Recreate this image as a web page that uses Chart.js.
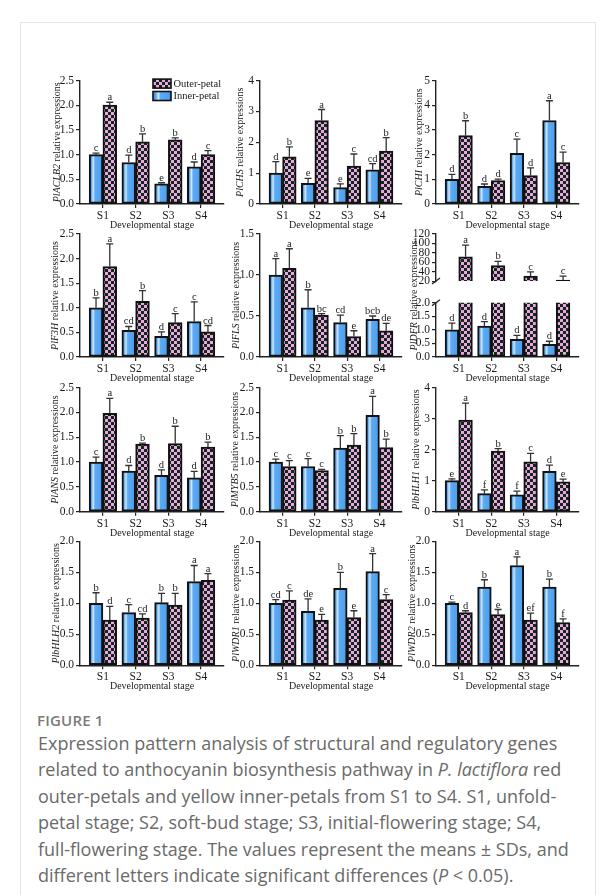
<!DOCTYPE html>
<html><head><meta charset="utf-8">
<script src="https://cdn.jsdelivr.net/npm/chart.js@4.4.1/dist/chart.umd.min.js"></script>
<style>
html,body{margin:0;padding:0;background:#fff;}
body{width:616px;height:895px;position:relative;overflow:hidden;}
#frame{position:absolute;left:20px;top:22px;width:576px;height:900px;border:1px solid #e4e4e4;box-sizing:border-box;}
canvas{position:absolute;}
#fig{position:absolute;left:37px;top:709px;font:600 15px/22px "Open Sans";color:#7a7a7a;letter-spacing:0.2px;white-space:nowrap;}
#cap{position:absolute;left:38px;top:730px;font:18px/26.4px "Open Sans";color:#6a6a6a;white-space:nowrap;}
</style></head><body>
<div id="frame"></div>
<div id="fig">FIGURE 1</div>
<div id="cap">Expression pattern analysis of structural and regulatory genes<br>related to anthocyanin biosynthesis pathway in <i>P. lactiflora</i> red<br>outer-petals and yellow inner-petals from S1 to S4. S1, unfold-<br>petal stage; S2, soft-bud stage; S3, initial-flowering stage; S4,<br>full-flowering stage. The values represent the means ± SDs, and<br>different letters indicate significant differences (<i>P</i> &lt; 0.05).</div>
<script>
// ---------- DATA ----------
const stages = ['S1','S2','S3','S4'];
const genes = ['PlACLB2','PlCHS','PlCHI','PlF3H','PlFLS','PlDFR','PlANS','PlMYB5','PlbHLH1','PlbHLH2','PlWDR1','PlWDR2'];
const innerMean = [
  [1.00,0.84,0.41,0.75],[1.00,0.67,0.53,1.11],[1.00,0.72,2.05,3.38],
  [1.00,0.54,0.42,0.72],[1.00,0.60,0.42,0.46],[1.00,1.14,0.65,0.47],
  [1.00,0.82,0.73,0.68],[1.00,0.91,1.28,1.94],[1.00,0.58,0.54,1.30],
  [1.00,0.85,1.01,1.35],[1.00,0.87,1.24,1.51],[1.00,1.26,1.61,1.26]];
const innerSD = [
  [0.03,0.15,0.02,0.10],[0.37,0.16,0.12,0.20],[0.20,0.09,0.58,0.80],
  [0.20,0.08,0.09,0.40],[0.20,0.22,0.09,0.04],[0.25,0.16,0.15,0.11],
  [0.10,0.11,0.11,0.13],[0.06,0.16,0.25,0.38],[0.06,0.12,0.12,0.20],
  [0.17,0.13,0.15,0.26],[0.06,0.20,0.26,0.29],[0.02,0.12,0.14,0.13]];
const outerMean = [
  [2.00,1.26,1.30,1.00],[1.53,2.70,1.23,1.71],[2.77,0.95,1.15,1.68],
  [1.84,1.13,0.70,0.51],[1.08,0.51,0.25,0.32],[71.5,52.7,30.9,22.4],
  [1.98,1.36,1.37,1.30],[0.91,0.83,1.34,1.29],[2.95,1.95,1.61,0.96],
  [0.73,0.76,0.97,1.37],[1.05,0.73,0.77,1.06],[0.85,0.82,0.73,0.69]];
const outerSD = [
  [0.06,0.16,0.04,0.08],[0.32,0.36,0.39,0.44],[0.60,0.06,0.31,0.42],
  [0.46,0.22,0.18,0.13],[0.24,0.02,0.07,0.09],[25,9,8.5,8],
  [0.30,0.02,0.35,0.10],[0.12,0.02,0.23,0.17],[0.55,0.08,0.27,0.09],
  [0.22,0.07,0.19,0.11],[0.15,0.09,0.11,0.08],[0.03,0.08,0.11,0.06]];
const innerLetters = [
  ['c','d','e','d'],['d','e','e','cd'],['d','d','c','a'],
  ['b','cd','d','c'],['a','b','cd','bcb'],['d','d','d','d'],
  ['c','d','d','d'],['c','c','b','a'],['e','f','f','d'],
  ['b','c','b','a'],['cd','de','b','a'],['c','b','a','b']];
const outerLetters = [
  ['a','b','b','c'],['b','a','c','b'],['b','d','d','c'],
  ['a','b','c','cd'],['a','bc','e','de'],['a','b','c','c'],
  ['a','b','b','b'],['c','c','b','b'],['a','b','c','e'],
  ['d','cd','b','a'],['c','e','e','c'],['d','e','ef','f']];
const yMax = [2.5,4,5,2.5,1.5,2,2.5,2.5,4,2,2,2];
const yStep = [0.5,1,1,0.5,0.5,0.5,0.5,0.5,1,0.5,0.5,0.5];
const dfrUpperTicks = [20,40,60,80,100,120];

// ---------- LAYOUT ----------
const Y_W = 50, PAD_R = 8, X_H = 30;
const colL = [80,260,436], colR = [224,402,579];
const rowTop = [80.5,234,387.5,541.3], rowBot = [204,357,511.7,665.3];
const titleOff = [23,19.5,17,24.5,24,22,24.5,25,20,24,23.5,24];
const CAT = 0.84, X_MIN = -0.7, X_MAX = 3.7;
const SERIF = '"Liberation Serif", "Times New Roman", serif';

function blueGrad(ctx, x0, x1){
  const g = ctx.createLinearGradient(x0,0,x1,0);
  g.addColorStop(0,'#4390df'); g.addColorStop(0.16,'#57a7f2');
  g.addColorStop(0.3,'#d2e9fc'); g.addColorStop(0.42,'#5dabf4');
  g.addColorStop(0.85,'#51a0ec'); g.addColorStop(1,'#3f88d6');
  return g;
}
function checker(chart){
  if (chart.$chk) return chart.$chk;
  const c = document.createElement('canvas'); c.width = c.height = 6;
  const x = c.getContext('2d');
  x.fillStyle = '#eea3ea'; x.fillRect(0,0,6,6);
  x.fillStyle = '#0c2b10'; x.fillRect(0,0,3,3); x.fillRect(3,3,3,3);
  chart.$chk = chart.ctx.createPattern(c,'repeat');
  return chart.$chk;
}
function innerFill(c){
  const chart = c.chart, xs = chart.scales.x;
  if (!xs || c.dataIndex == null) return '#55a5f0';
  const p0 = xs.getPixelForValue(0), p1 = xs.getPixelForValue(1);
  if (!isFinite(p0) || !isFinite(p1)) return '#55a5f0';
  const cx = xs.getPixelForValue(c.dataIndex), bw = (p1-p0)*CAT/2;
  return blueGrad(chart.ctx, cx-bw, cx);
}

const decor = {
  id: 'decor',
  afterDatasetsDraw(chart){
    const o = chart.canvas._cfg, ctx = chart.ctx, ys = chart.scales.y;
    ctx.save();
    chart.data.datasets.forEach((ds, di) => {
      const meta = chart.getDatasetMeta(di);
      meta.data.forEach((bar, i) => {
        const d = ds.data[i]; const v = d && d.y;
        if (v == null || v > ys.max || v < ys.min) return;
        const sd = ds.sd[i], x = bar.x;
        const y0 = ys.getPixelForValue(v), y1 = ys.getPixelForValue(v+sd);
        ctx.strokeStyle = '#333'; ctx.lineWidth = 1.3;
        ctx.beginPath(); ctx.moveTo(x,y0); ctx.lineTo(x,y1);
        ctx.moveTo(x-3.5,y1); ctx.lineTo(x+3.5,y1); ctx.stroke();
        ctx.fillStyle = '#1a1a1a'; ctx.font = '10.5px ' + SERIF;
        ctx.textAlign = 'center'; ctx.textBaseline = 'alphabetic';
        ctx.fillText(ds.letters[i], x, y1-2);
      });
    });
    ctx.restore();
  },
  afterDraw(chart){
    const o = chart.canvas._cfg, ctx = chart.ctx, ca = chart.chartArea;
    ctx.save();
    ctx.fillStyle = '#1a1a1a';
    if (o.gene){
      const cx = ca.left - o.tOff;
      const topY = o.spanTop != null ? ca.top - o.spanTop : ca.top;
      const cy = (topY + ca.bottom)/2;
      ctx.translate(cx, cy); ctx.rotate(-Math.PI/2);
      const f1 = 'italic 10px ' + SERIF, f2 = '10px ' + SERIF, rest = ' relative expressions';
      ctx.font = f1; const w1 = ctx.measureText(o.gene).width;
      ctx.font = f2; const w2 = ctx.measureText(rest).width;
      const x0 = -(w1+w2)/2;
      ctx.textBaseline = 'middle'; ctx.textAlign = 'left';
      ctx.font = f1; ctx.fillText(o.gene, x0, 0);
      ctx.font = f2; ctx.fillText(rest, x0+w1, 0);
      ctx.setTransform(1,0,0,1,0,0);
    }
    if (o.showX){
      ctx.font = '10px ' + SERIF; ctx.textAlign = 'center'; ctx.textBaseline = 'middle';
      ctx.fillText('Developmental stage', (ca.left+ca.right)/2, ca.bottom+21.5);
    }
    if (o.brk){
      const y = o.brk === 'top' ? ca.top : ca.bottom;
      ctx.strokeStyle = '#222'; ctx.lineWidth = 1.3;
      ctx.beginPath(); ctx.moveTo(ca.left-4, y+3); ctx.lineTo(ca.left+4, y-3); ctx.stroke();
    }
    if (o.legend){
      const bx = ca.left + 73, items = [
        {t:'Outer-petal', y: ca.top - 1.4, f: checker(chart)},
        {t:'Inner-petal', y: ca.top + 11, f: blueGrad(ctx, bx, bx+18)}];
      items.forEach(it => {
        ctx.fillStyle = it.f; ctx.fillRect(bx, it.y, 18, 9);
        ctx.strokeStyle = '#111'; ctx.lineWidth = 1.6; ctx.strokeRect(bx, it.y, 18, 9);
        ctx.fillStyle = '#1a1a1a'; ctx.font = '10.5px ' + SERIF;
        ctx.textAlign = 'left'; ctx.textBaseline = 'middle';
        ctx.fillText(it.t, bx+20.5, it.y+4.8);
      });
    }
    ctx.restore();
  }
};

function makeChart(o){
  const cv = document.createElement('canvas');
  const leftAbs = o.L - Y_W, cl = Math.floor(leftAbs), padL = leftAbs - cl;
  const topAbs = o.top - o.padTop, ct = Math.floor(topAbs), padT = o.top - ct;
  const xh = o.showX ? X_H : 0;
  const W = Math.ceil(o.R + PAD_R - cl), padR = W - (o.R - cl);
  const H = Math.ceil(o.bot + xh - ct) + 1, padB = H - (o.bot - ct) - xh;
  cv.width = W; cv.height = H;
  cv.style.left = cl + 'px'; cv.style.top = ct + 'px';
  cv.style.width = W + 'px'; cv.style.height = H + 'px';
  document.body.appendChild(cv);
  cv._cfg = o;
  const tickVals = o.ticks;
  const dec = o.dec;
  const bt = (o.R - o.L) / (X_MAX - X_MIN) * CAT / 2;
  const mk = (arr) => arr.map((v,i) => ({x:i, y:v}));
  new Chart(cv, {
    type: 'bar',
    data: { datasets: [
      { label:'Inner-petal', data: mk(o.inner), sd: o.innerSD, letters: o.innerLet,
        backgroundColor: innerFill, borderColor:'#111', borderWidth: 2,
        borderSkipped: o.skip ? 'start' : false, barThickness: bt },
      { label:'Outer-petal', data: mk(o.outer), sd: o.outerSD, letters: o.outerLet,
        backgroundColor: (c) => checker(c.chart), borderColor:'#111', borderWidth: 2,
        borderSkipped: o.skip ? 'start' : false, barThickness: bt }
    ]},
    options: {
      responsive: false, animation: false, devicePixelRatio: 1, events: [],
      layout: { padding: { left: padL, top: padT, right: padR, bottom: padB } },
      plugins: { legend: { display: false }, tooltip: { enabled: false } },
      scales: {
        x: { type: 'linear', min: X_MIN, max: X_MAX, display: o.showX, offset: false,
          afterBuildTicks: s => { s.ticks = stages.map((_,i) => ({value:i})); },
          afterFit: s => { if (o.showX) s.height = X_H; },
          ticks: { callback: v => stages[v], font: {family: SERIF, size: 11.5}, color:'#1a1a1a',
                   padding: 1, autoSkip: false, maxRotation: 0 },
          grid: { offset: false, drawOnChartArea: false, drawTicks: true, tickLength: 4, color:'#222', lineWidth: 1.2 },
          border: { display: true, color:'#222', width: 1.4 } },
        y: { min: tickVals[0], max: tickVals[tickVals.length-1],
          afterBuildTicks: s => { s.ticks = tickVals.map(v => ({value:v})); },
          afterFit: s => { s.width = Y_W; },
          ticks: { callback: v => v.toFixed(dec), font: {family: SERIF, size: 11.5}, color:'#1a1a1a',
                   padding: 2, autoSkip: false },
          grid: { drawOnChartArea: false, drawTicks: true, tickLength: 4, color:'#222', lineWidth: 1.2 },
          border: { display: true, color:'#222', width: 1.4 } }
      }
    },
    plugins: [decor]
  });
}

function range(mx, st){ const a = []; for (let v = 0; v <= mx + 1e-9; v += st) a.push(+v.toFixed(2)); return a; }

genes.forEach((g, k) => {
  const r = Math.floor(k/3), c = k % 3;
  const base = { L: colL[c], R: colR[c], innerSD: innerSD[k], outerSD: outerSD[k],
    innerLet: innerLetters[k], outerLet: outerLetters[k], tOff: titleOff[k] };
  if (g === 'PlDFR'){
    const upBot = 289, lowTop = 302.7;
    makeChart(Object.assign({}, base, { top: lowTop, bot: rowBot[r], padTop: 14 + (lowTop - rowTop[r]),
      showX: true, ticks: range(yMax[k], yStep[k]), dec: 1, inner: innerMean[k], outer: outerMean[k],
      gene: g, spanTop: lowTop - rowTop[r], brk: 'top' }));
    makeChart(Object.assign({}, base, { top: rowTop[r], bot: upBot, padTop: 14,
      showX: false, ticks: dfrUpperTicks, dec: 0, inner: innerMean[k].map(() => null), outer: outerMean[k],
      skip: true, brk: 'bottom' }));
  } else {
    makeChart(Object.assign({}, base, { top: rowTop[r], bot: rowBot[r], padTop: 16,
      showX: true, ticks: range(yMax[k], yStep[k]), dec: yStep[k] < 1 ? 1 : 0,
      inner: innerMean[k], outer: outerMean[k], gene: g, legend: k === 0 }));
  }
});
</script>
</body></html>
